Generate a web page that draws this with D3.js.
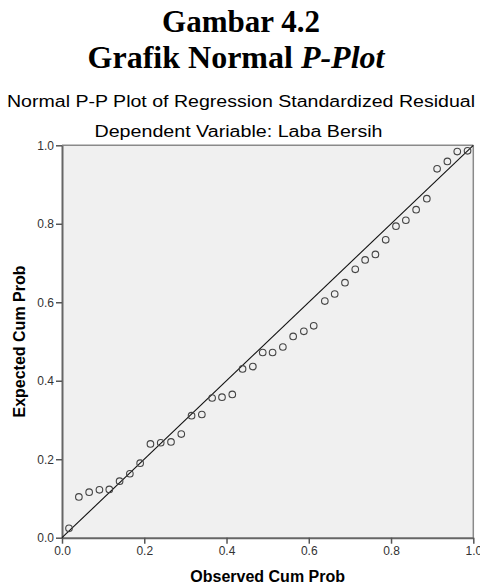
<!DOCTYPE html>
<html>
<head>
<meta charset="utf-8">
<script src="https://cdn.jsdelivr.net/npm/d3@7"></script>
<style>
  body { margin: 0; background: #fff; }
  svg { display: block; }
</style>
</head>
<body>
<div id="chart"></div>
<script>
// Data
var observedCumProb = [0.017, 0.041, 0.066, 0.091, 0.115, 0.140, 0.165, 0.190, 0.215, 0.240,
  0.265, 0.290, 0.315, 0.340, 0.365, 0.389, 0.414, 0.439, 0.464, 0.488,
  0.512, 0.537, 0.562, 0.588, 0.612, 0.639, 0.663, 0.688, 0.713, 0.737,
  0.762, 0.787, 0.812, 0.836, 0.861, 0.887, 0.912, 0.937, 0.961, 0.986];
var expectedCumProb = [0.024, 0.104, 0.116, 0.122, 0.123, 0.144, 0.163, 0.190, 0.239, 0.242,
  0.244, 0.264, 0.311, 0.314, 0.356, 0.358, 0.365, 0.430, 0.436, 0.472,
  0.472, 0.486, 0.513, 0.526, 0.540, 0.603, 0.621, 0.650, 0.684, 0.708,
  0.722, 0.759, 0.794, 0.809, 0.836, 0.864, 0.940, 0.959, 0.984, 0.986];
var tickValues = [0, 0.2, 0.4, 0.6, 0.8, 1.0];
var refLine = [0, 1];

var svgWidth = 480;
var svgHeight = 586;

// plot area (don't name these top/left, window.top is read-only)
var plotLeft = 62, plotRight = 473.3, plotTop = 145.3, plotBottom = 537.7;

var svg = d3.select("#chart").append("svg")
  .attr("width", svgWidth)
  .attr("height", svgHeight);

// titles
var serif = "'Liberation Serif', 'Times New Roman', serif";
var sans = "'Liberation Sans', Arial, sans-serif";

svg.append("text")
  .attr("x", 241).attr("y", 31.5)
  .attr("text-anchor", "middle")
  .attr("font-family", serif).attr("font-size", "31px").attr("font-weight", "bold")
  .text("Gambar 4.2");

var t2 = svg.append("text")
  .attr("x", 236).attr("y", 68)
  .attr("text-anchor", "middle")
  .attr("font-family", serif).attr("font-size", "32px").attr("font-weight", "bold");
t2.append("tspan").text("Grafik Normal ");
t2.append("tspan").attr("font-style", "italic").text("P-Plot");

svg.append("text")
  .attr("x", 241).attr("y", 107)
  .attr("text-anchor", "middle")
  .attr("font-family", sans).attr("font-size", "16px")
  .attr("textLength", 468).attr("lengthAdjust", "spacingAndGlyphs")
  .text("Normal P-P Plot of Regression Standardized Residual");

svg.append("text")
  .attr("x", 238.5).attr("y", 137)
  .attr("text-anchor", "middle")
  .attr("font-family", sans).attr("font-size", "16px")
  .attr("textLength", 288).attr("lengthAdjust", "spacingAndGlyphs")
  .text("Dependent Variable: Laba Bersih");

// scales
var x = d3.scaleLinear().domain([0, 1]).range([plotLeft, plotRight]);
var y = d3.scaleLinear().domain([0, 1]).range([plotBottom, plotTop]);

// plot background + frame
svg.append("rect")
  .attr("x", x(0)).attr("y", y(1))
  .attr("width", x(1) - x(0)).attr("height", y(0) - y(1))
  .attr("fill", "#f0f0f0");

svg.append("line")
  .attr("x1", x(0)).attr("x2", x(1)).attr("y1", y(1)).attr("y2", y(1))
  .attr("stroke", "#8a8a8a").attr("stroke-width", 1.5);
svg.append("line")
  .attr("x1", x(1)).attr("x2", x(1)).attr("y1", y(1)).attr("y2", y(0))
  .attr("stroke", "#8a8a8a").attr("stroke-width", 1.5);

// axes
var xAxis = svg.append("g")
  .attr("transform", "translate(0," + plotBottom + ")")
  .call(d3.axisBottom(x).tickValues(tickValues).tickFormat(d3.format(".1f"))
    .tickSize(6).tickSizeOuter(0).tickPadding(3));

var yAxis = svg.append("g")
  .attr("transform", "translate(" + plotLeft + ",0)")
  .call(d3.axisLeft(y).tickValues(tickValues).tickFormat(d3.format(".1f"))
    .tickSize(6).tickSizeOuter(0).tickPadding(2));

[xAxis, yAxis].forEach(function(g) {
  g.select(".domain").attr("stroke", "#666").attr("stroke-width", 2);
  g.selectAll(".tick line").attr("stroke", "#555").attr("stroke-width", 1.5);
  g.selectAll(".tick text")
    .attr("fill", "#333")
    .attr("font-family", sans)
    .attr("font-size", "12px");
});

// axis titles
svg.append("text")
  .attr("x", (plotLeft + plotRight) / 2).attr("y", 582)
  .attr("text-anchor", "middle")
  .attr("font-family", sans).attr("font-size", "16px").attr("font-weight", "bold")
  .text("Observed Cum Prob");

svg.append("text")
  .attr("transform", "translate(25," + ((plotTop + plotBottom) / 2) + ") rotate(-90)")
  .attr("text-anchor", "middle")
  .attr("font-family", sans).attr("font-size", "16px").attr("font-weight", "bold")
  .text("Expected Cum Prob");

// reference diagonal
svg.append("line")
  .attr("x1", x(refLine[0])).attr("y1", y(refLine[0]))
  .attr("x2", x(refLine[1])).attr("y2", y(refLine[1]))
  .attr("stroke", "#111").attr("stroke-width", 1.1);

// points
svg.append("g")
  .selectAll("circle")
  .data(observedCumProb)
  .enter()
  .append("circle")
    .attr("cx", function(d) { return x(d); })
    .attr("cy", function(d, i) { return y(expectedCumProb[i]); })
    .attr("r", 3.3)
    .attr("fill", "none")
    .attr("stroke", "#444")
    .attr("stroke-width", 1.1);
</script>
</body>
</html>
